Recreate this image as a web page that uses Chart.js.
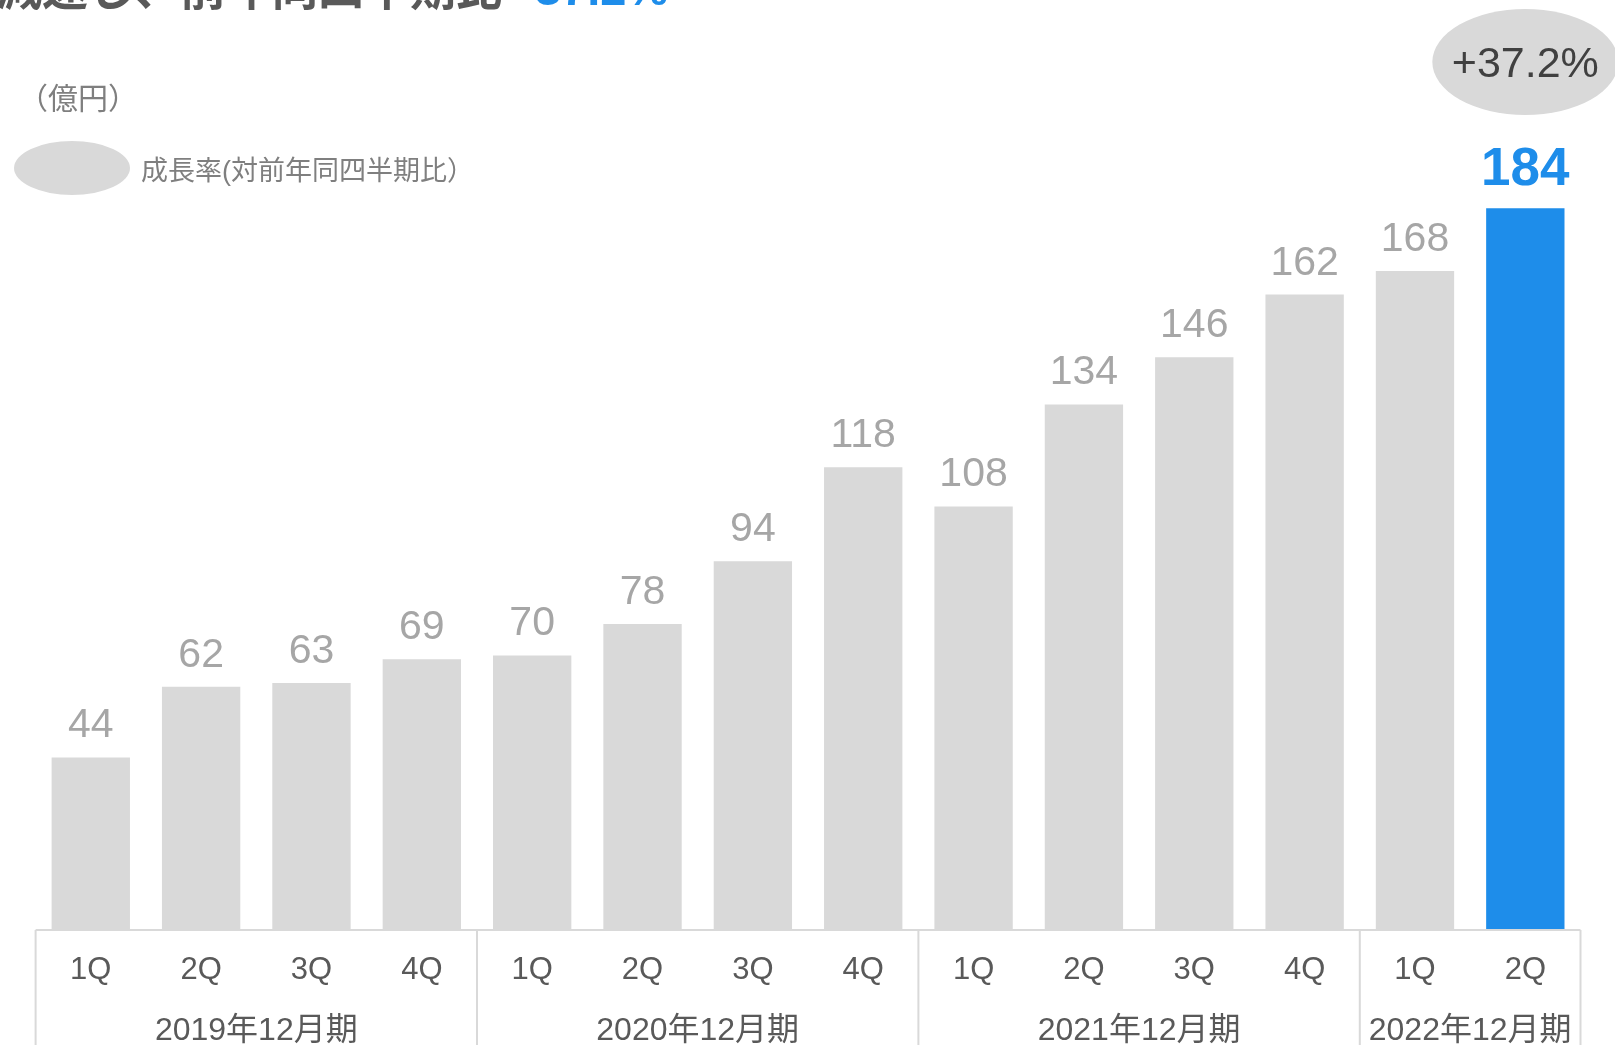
<!DOCTYPE html>
<html>
<head>
<meta charset="utf-8">
<script src="https://cdn.jsdelivr.net/npm/chart.js@4"></script>
<style>
  html, body { margin: 0; padding: 0; background: #fff; overflow: hidden; }
  #revChart { display: block; }
</style>
</head>
<body>
<canvas id="revChart" width="1615" height="1045"></canvas>
<script>
// 四半期売上高（億円）
const quarters = ['1Q', '2Q', '3Q', '4Q', '1Q', '2Q', '3Q', '4Q', '1Q', '2Q', '3Q', '4Q', '1Q', '2Q'];
const revenue = [44, 62, 63, 69, 70, 78, 94, 118, 108, 134, 146, 162, 168, 184];
const fiscalYears = ['2019年12月期', '2020年12月期', '2021年12月期', '2022年12月期'];
const yearSpans = [4, 4, 4, 2];
const latestGrowth = '+37.2%';

const FONT = '"Liberation Sans", Arial, "Noto Sans CJK JP", sans-serif';
const GRAY_BAR = '#d9d9d9';
const BLUE = '#1e8dea';
const lastIdx = revenue.length - 1;

const barColors = revenue.map((v, i) => i === lastIdx ? BLUE : GRAY_BAR);

const overlay = {
  id: 'overlay',
  afterDatasetsDraw(chart) {
    const { ctx, chartArea } = chart;
    const xs = chart.scales.x;
    const meta = chart.getDatasetMeta(0);
    const bottom = chartArea.bottom;
    const left = chartArea.left, right = chartArea.right;
    const step = (right - left) / quarters.length;

    ctx.save();

    // headline (top cropped)
    ctx.textBaseline = 'alphabetic';
    ctx.textAlign = 'left';
    ctx.font = 'bold 46px ' + FONT;
    ctx.fillStyle = '#595959';
    ctx.fillText('減速し、前年同四半期比', -4, 5);
    ctx.font = 'bold 47px ' + FONT;
    ctx.fillStyle = BLUE;
    ctx.fillText('37.2%', 535, 5);

    // unit
    ctx.font = '30px ' + FONT;
    ctx.fillStyle = '#7f7f7f';
    ctx.textBaseline = 'middle';
    ctx.fillText('（億円）', 18, 101);

    // legend marker
    ctx.fillStyle = GRAY_BAR;
    ctx.beginPath();
    ctx.ellipse(72, 168, 58, 27, 0, 0, Math.PI * 2);
    ctx.fill();
    ctx.font = '27px ' + FONT;
    ctx.fillStyle = '#7f7f7f';
    ctx.fillText('成長率(対前年同四半期比）', 141, 173);

    // value labels
    ctx.textAlign = 'center';
    ctx.textBaseline = 'alphabetic';
    meta.data.forEach((bar, i) => {
      if (i === lastIdx) {
        ctx.font = 'bold 53px ' + FONT;
        ctx.fillStyle = BLUE;
        ctx.fillText(String(revenue[i]), bar.x, bar.y - 23);
      } else {
        ctx.font = '41px ' + FONT;
        ctx.fillStyle = '#a6a6a6';
        ctx.fillText(String(revenue[i]), bar.x, bar.y - 20);
      }
    });

    // growth bubble over latest bar
    const last = meta.data[lastIdx];
    ctx.fillStyle = GRAY_BAR;
    ctx.beginPath();
    ctx.ellipse(last.x, 62, 93, 53, 0, 0, Math.PI * 2);
    ctx.fill();
    ctx.font = '43px ' + FONT;
    ctx.fillStyle = '#404040';
    ctx.textBaseline = 'middle';
    ctx.fillText(latestGrowth, last.x, 65);

    // axis frame
    ctx.strokeStyle = '#d9d9d9';
    ctx.lineWidth = 2;
    ctx.beginPath();
    ctx.moveTo(left, bottom);
    ctx.lineTo(right, bottom);
    let edge = left;
    ctx.moveTo(edge, bottom);
    ctx.lineTo(edge, chart.height);
    yearSpans.forEach(n => {
      edge += n * step;
      ctx.moveTo(edge, bottom);
      ctx.lineTo(edge, chart.height);
    });
    ctx.stroke();

    // quarter + fiscal year labels
    ctx.fillStyle = '#595959';
    ctx.font = '31px ' + FONT;
    ctx.textBaseline = 'alphabetic';
    quarters.forEach((q, i) => {
      ctx.fillText(q, xs.getPixelForValue(i), 979);
    });
    ctx.font = '32px ' + FONT;
    let start = 0;
    fiscalYears.forEach((fy, k) => {
      const a = xs.getPixelForValue(start) - step / 2;
      const b = xs.getPixelForValue(start + yearSpans[k] - 1) + step / 2;
      ctx.fillText(fy, (a + b) / 2, 1040);
      start += yearSpans[k];
    });

    ctx.restore();
  }
};

new Chart(document.getElementById('revChart'), {
  type: 'bar',
  data: {
    labels: quarters,
    datasets: [{
      label: '売上高',
      data: revenue,
      backgroundColor: barColors,
      barPercentage: 0.71,
      categoryPercentage: 1
    }]
  },
  options: {
    responsive: false,
    devicePixelRatio: 1,
    animation: false,
    layout: { padding: { left: 35.6, right: 34.5, top: 0, bottom: 0 } },
    plugins: { legend: { display: false }, tooltip: { enabled: false } },
    scales: {
      x: {
        grid: { display: false },
        border: { display: false },
        ticks: { display: false },
        afterFit: (s) => { s.height = 115; }
      },
      y: {
        display: false,
        min: 0,
        max: 237.1
      }
    }
  },
  plugins: [overlay]
});
</script>
</body>
</html>
